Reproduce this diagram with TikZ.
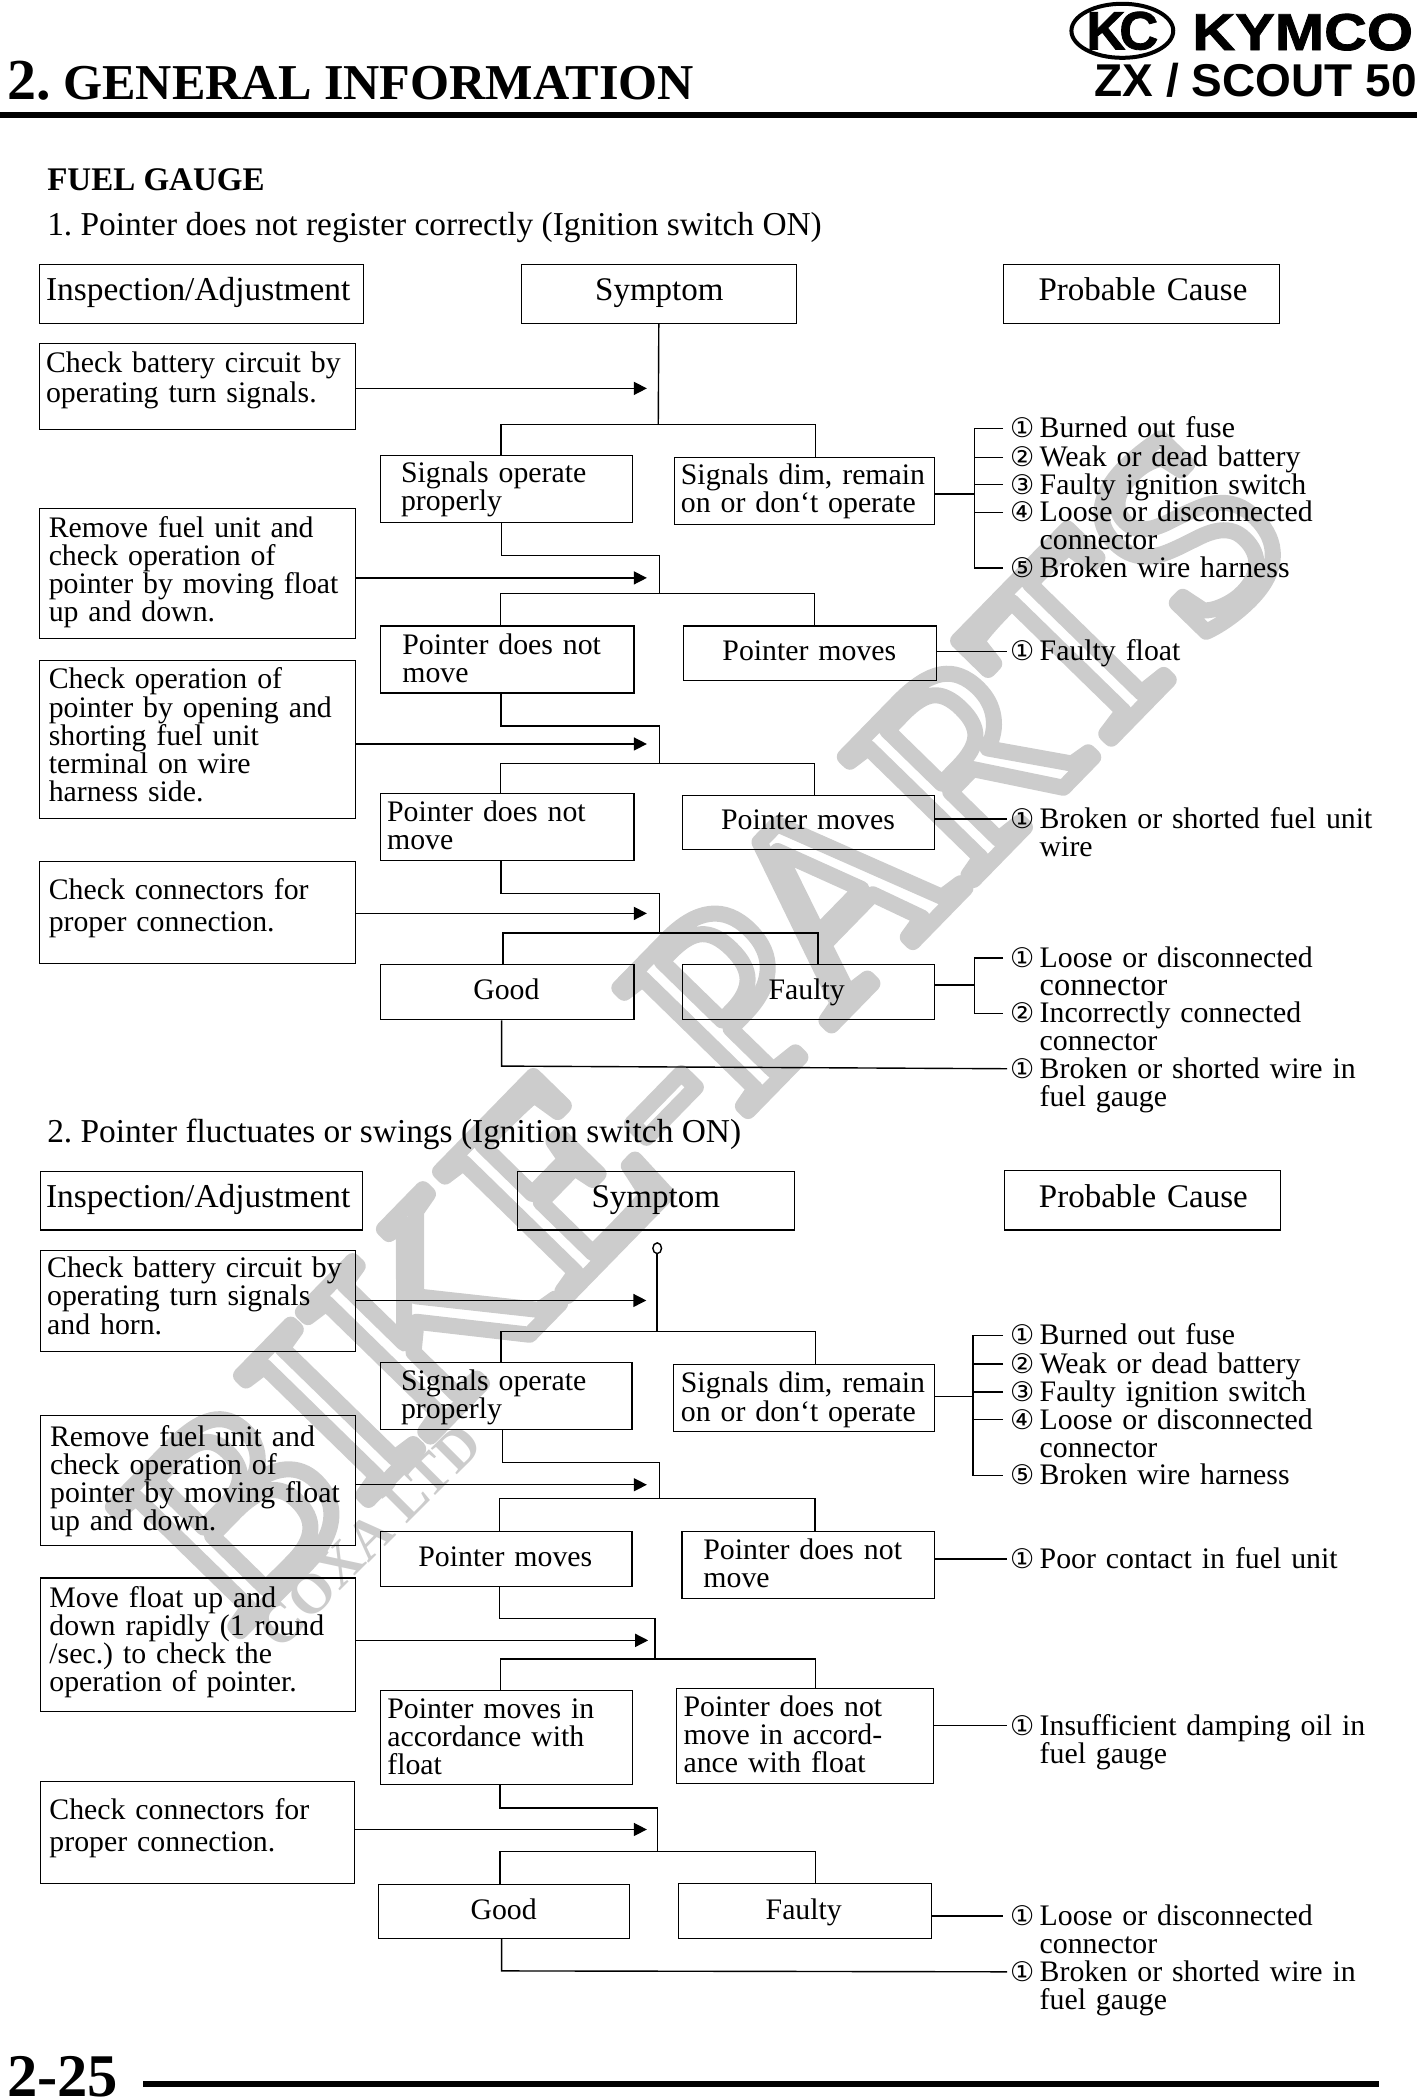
\documentclass[tikz,border=0pt]{standalone}
\usepackage{fontspec}
\setmainfont{Liberation Serif}
\newfontfamily\sansbold{Liberation Sans}[UprightFont=* Bold]
\newfontfamily\brandfont{Liberation Sans}[UprightFont=* Bold,FakeBold=1.5]
\newfontfamily\circfont{DejaVu Sans}
\usetikzlibrary{arrows.meta,shapes.geometric}
\frenchspacing
\newlength{\ux}
\setlength{\ux}{0.66964pt}
\newcommand{\bodyfont}{\fontsize{14.9}{14.06}\selectfont}
\newcommand{\headfont}{\fontsize{16.5}{16}\selectfont}
\newcommand{\cnum}[1]{\makebox[22\ux][l]{{\circfont\fontsize{13.5}{14}\selectfont #1}}}
\newcommand{\cindent}{\hspace*{22\ux}}
\tikzset{
	mybox/.style n args={4}{draw,line width=0.55pt,anchor=north west,inner sep=0pt,align=left,font=\bodyfont,
		text width=#1*\ux,text height=#4*\ux,text depth=(#2-#4)*\ux,execute at begin node={\leftskip=#3\ux}},
	headbox/.style n args={4}{mybox={#1}{#2}{#3}{#4},font=\headfont},
	cause/.style={anchor=base west,inner sep=0pt,text width=300\ux,align=left,font=\bodyfont},
	plain/.style={anchor=base west,inner sep=0pt},
	link/.style={line width=0.7pt},
	tick/.style={xshift=-3.3pt,yshift=4.7pt},
	lead/.style={xshift=-1.3pt,yshift=4.7pt},
}
\begin{document}
\begin{tikzpicture}[x=\ux,y=-\ux,>={Triangle[length=6.5pt,width=6.5pt]}]
	\useasboundingbox (0,0) rectangle (1059.6,1568);
	
	% watermark
	\node[rotate=45.7,font=\fontsize{136}{136}\selectfont] (mark) at (527,767) {\special{pdf:code q 1 Tr 8 w 1 j 1 J 0.8 G}BIKE-PARTS\special{pdf:code Q}};
	\node[rotate=45,text=black!20,font=\bfseries\fontsize{28}{28}\selectfont] (mark2) at (276,1147) {COXA LTD};
	
	% page head
	\node[plain,font=\bfseries\fontsize{29}{29}\selectfont] (num) at (5,74.5) {2.};
	\node[plain,font=\bfseries\fontsize{25.1}{25.1}\selectfont] (title) at (47,74.5) {GENERAL INFORMATION};
	\node[draw,ellipse,line width=2pt,inner sep=0pt,minimum width=75\ux,minimum height=40\ux,font=\brandfont\fontsize{27}{27}\selectfont] (logo) at (838,23) {K\kern-3pt C};
	\node[plain,transform shape,xscale=1.14,font=\brandfont\fontsize{26}{26}\selectfont] (brand) at (890,37.4) {KYMCO};
	\node[plain,font=\sansbold\fontsize{23}{23}\selectfont] (model) at (817,71.7) {ZX / SCOUT 50};
	\coordinate (RT1) at (0,86);
	\coordinate (RT2) at (1058,86);
	\draw[line width=2.8pt] (RT1) -- (RT2);
	\node[plain,font=\bfseries\fontsize{16.5}{16.5}\selectfont] (gauge) at (35,142) {FUEL GAUGE};
	\node[plain,font=\fontsize{16.7}{16}\selectfont] (prob1) at (35,175.6) {1. Pointer does not register correctly (Ignition switch ON)};
	\node[plain,font=\fontsize{16.7}{16}\selectfont] (prob2) at (35,853) {2. Pointer fluctuates or swings (Ignition switch ON)};
	
	% first chart, left and middle columns
	\node[headbox={242}{44}{5}{27},font=\fontsize{16.7}{16}\selectfont] (H1a) at (29,197) {Inspection/Adjustment};
	\node[headbox={205}{44}{55}{27}] (H1b) at (389,197) {Symptom};
	\node[headbox={206}{44}{26}{27}] (H1c) at (749,197) {Probable Cause};
	\node[mybox={236}{64}{5}{22}] (I1) at (29,256) {Check battery circuit by\\[0.7pt]operating turn signals.};
	\node[mybox={236}{97}{7}{22}] (I2) at (29,379) {Remove fuel unit and\\check operation of\\pointer by moving float\\up and down.};
	\node[mybox={236}{118}{7}{21}] (I3) at (29,493) {Check operation of\\pointer by opening and\\shorting fuel unit\\terminal on wire\\harness side.};
	\node[mybox={236}{76}{7}{28}] (I4) at (29,643) {Check connectors for\\[2pt]proper connection.};
	\node[mybox={188}{50}{15}{20.5}] (S1a) at (284,339.5) {Signals operate\\properly};
	\node[mybox={194.3}{50}{5}{20}] (S1b) at (503,341) {Signals dim, remain\\on or don‘t operate};
	\node[mybox={189}{50}{16}{21}] (S2a) at (284,467) {Pointer does not\\move};
	\node[mybox={189}{41}{29}{26}] (S2b) at (510,467) {Pointer moves};
	\node[mybox={189}{50}{4.6}{21}] (S3a) at (284,592) {Pointer does not\\move};
	\node[mybox={187.8}{40.4}{28.5}{25}] (S3b) at (509.5,593.6) {Pointer moves};
	\node[mybox={189}{41}{69}{26}] (S4a) at (284,720) {Good};
	\node[mybox={187.8}{41}{64}{26}] (S4b) at (509.5,719.6) {Faulty};
	
	% first chart, causes
	\node[cause] (C11) at (754,327) {\cnum{①}Burned out fuse};
	\node[cause] (C12) at (754,348.4) {\cnum{②}Weak or dead battery};
	\node[cause] (C13) at (754,369) {\cnum{③}Faulty ignition switch};
	\node[cause] (C14) at (754,389.5) {\cnum{④}Loose or disconnected\\\cindent connector};
	\node[cause] (C15) at (754,431) {\cnum{⑤}Broken wire harness};
	\node[cause] (C21) at (754,493.5) {\cnum{①}Faulty float};
	\node[cause] (C31) at (754,618.5) {\cnum{①}Broken or shorted fuel unit\\\cindent wire};
	\node[cause] (C41) at (754,722.4) {\cnum{①}Loose or disconnected\\\cindent{\fontsize{16.2}{14}\selectfont connector}};
	\node[cause] (C42) at (754,763.7) {\cnum{②}Incorrectly connected\\\cindent connector};
	\node[cause] (C51) at (754,805) {\cnum{①}Broken or shorted wire in\\\cindent fuel gauge};
	
	% first chart, tree
	\coordinate (J1) at (491.5,317);
	\coordinate (J1l) at (374,317);
	\coordinate (J1r) at (609,317);
	\coordinate (A1) at (483,290);
	\draw[link] (H1b.south) -- (J1);
	\draw[link] (S1a.north -| J1l) -- (J1l) -- (J1r) -- (S1b.north -| J1r);
	\path[->,link] (I1.east |- A1) edge (A1);
	
	\coordinate (E2) at (374.5,414.7);
	\coordinate (K2) at (492.6,414.7);
	\coordinate (J2) at (492.6,443);
	\coordinate (J2l) at (373.5,443);
	\coordinate (J2r) at (608,443);
	\coordinate (A2) at (483,431.5);
	\draw[link] (S1a.south -| E2) -- (E2) -- (K2) -- (J2);
	\draw[link] (S2a.north -| J2l) -- (J2l) -- (J2r) -- (S2b.north -| J2r);
	\path[->,link] (I2.east |- A2) edge (A2);
	
	\coordinate (E3) at (374,542);
	\coordinate (K3) at (492.6,542);
	\coordinate (J3) at (492.6,570);
	\coordinate (J3l) at (373.5,570);
	\coordinate (J3r) at (608,570);
	\coordinate (A3) at (483,555.5);
	\draw[link] (S2a.south -| E3) -- (E3) -- (K3) -- (J3);
	\draw[link] (S3a.north -| J3l) -- (J3l) -- (J3r) -- (S3b.north -| J3r);
	\path[->,link] (I3.east |- A3) edge (A3);
	
	\coordinate (E4) at (374,667);
	\coordinate (K4) at (492.6,667);
	\coordinate (J4) at (492.6,696.7);
	\coordinate (J4l) at (375.5,696.7);
	\coordinate (J4r) at (610.8,696.7);
	\coordinate (A4) at (483,682);
	\draw[link] (S3a.south -| E4) -- (E4) -- (K4) -- (J4);
	\draw[link] (S4a.north -| J4l) -- (J4l) -- (J4r) -- (S4b.north -| J4r);
	\path[->,link] (I4.east |- A4) edge (A4);
	
	% first chart, links to causes
	\coordinate (B1) at (727.5,369);
	\coordinate (T11) at ([tick]C11.base west);
	\coordinate (T12) at ([tick]C12.base west);
	\coordinate (T13) at ([tick]C13.base west);
	\coordinate (T14) at ([tick]C14.base west);
	\coordinate (T15) at ([tick]C15.base west);
	\draw[link] (T11) -| (B1) |- (T15);
	\path[link] (T12) edge (T12 -| B1);
	\path[link] (T13) edge (T13 -| B1);
	\path[link] (T14) edge (T14 -| B1);
	\path[link] (S1b.east |- B1) edge (B1);
	
	\coordinate (T21) at ([lead]C21.base west);
	\path[link] (S2b.east |- T21) edge (T21);
	\coordinate (T31) at ([lead]C31.base west);
	\path[link] (S3b.east |- T31) edge (T31);
	
	\coordinate (B4) at (727.5,735.6);
	\coordinate (T41) at ([tick]C41.base west);
	\coordinate (T42) at ([tick]C42.base west);
	\draw[link] (T41) -| (B4) |- (T42);
	\path[link] (S4b.east |- B4) edge (B4);
	
	\coordinate (E5) at (374.5,796);
	\coordinate (T51) at ([lead]C51.base west);
	\draw[link] (S4a.south -| E5) -- (E5) -- (T51);
	
	% second chart, left and middle columns
	\node[headbox={241}{44}{4.5}{27.4},font=\fontsize{16.7}{16}\selectfont] (H2a) at (29.5,874) {Inspection/Adjustment};
	\node[headbox={206.3}{44}{55}{27.4}] (H2b) at (386.3,874) {Symptom};
	\node[headbox={206.3}{44.5}{26}{28}] (H2c) at (749.3,873.5) {Probable Cause};
	\node[mybox={235.5}{76}{5.3}{20.7}] (I5) at (29.5,933) {Check battery circuit by\\operating turn signals\\and horn.};
	\node[mybox={235.5}{97}{7.5}{23}] (I6) at (29.5,1056.5) {Remove fuel unit and\\check operation of\\pointer by moving float\\up and down.};
	\node[mybox={235.5}{100}{7}{22}] (I7) at (29.5,1177.8) {Move float up and\\down rapidly (1 round\\/sec.) to check the\\operation of pointer.};
	\node[mybox={235}{76}{7}{28}] (I8) at (29.5,1330) {Check connectors for\\[2pt]proper connection.};
	\node[mybox={188}{50}{15.5}{21}] (S5a) at (283.5,1016.8) {Signals operate\\properly};
	\node[mybox={195}{50}{5.4}{21.3}] (S5b) at (502.6,1018.3) {Signals dim, remain\\on or don‘t operate};
	\node[mybox={188}{41}{28.5}{26}] (S6a) at (283.5,1143) {Pointer moves};
	\node[mybox={188.7}{50}{16}{21}] (S6b) at (508.8,1143) {Pointer does not\\move};
	\node[mybox={188}{70}{4.8}{20.4}] (S7a) at (284,1262) {Pointer moves in\\accordance with\\float};
	\node[mybox={191.3}{71}{5}{21}] (S7b) at (505,1260) {Pointer does not\\move in accord-\\ance with float};
	\node[mybox={188}{40}{69}{25.8}] (S8a) at (281.9,1406.8) {Good};
	\node[mybox={188.6}{41}{65}{26.6}] (S8b) at (506.3,1406) {Faulty};
	
	% second chart, causes
	\node[cause] (C61) at (754,1004) {\cnum{①}Burned out fuse};
	\node[cause] (C62) at (754,1025.6) {\cnum{②}Weak or dead battery};
	\node[cause] (C63) at (754,1046.5) {\cnum{③}Faulty ignition switch};
	\node[cause] (C64) at (754,1067) {\cnum{④}Loose or disconnected\\\cindent connector};
	\node[cause] (C65) at (754,1108.5) {\cnum{⑤}Broken wire harness};
	\node[cause] (C71) at (754,1171) {\cnum{①}Poor contact in fuel unit};
	\node[cause] (C81) at (754,1295.5) {\cnum{①}Insufficient damping oil in\\\cindent fuel gauge};
	\node[cause] (C91) at (754,1437.7) {\cnum{①}Loose or disconnected\\\cindent connector};
	\node[cause] (C92) at (754,1479.3) {\cnum{①}Broken or shorted wire in\\\cindent fuel gauge};
	
	% second chart, tree
	\node[draw,ellipse,link,inner sep=0pt,minimum width=6.5\ux,minimum height=8\ux] (O1) at (490.7,932) {};
	\coordinate (J5) at (490.7,994.3);
	\coordinate (J5l) at (374,994.3);
	\coordinate (J5r) at (609,994.3);
	\coordinate (A5) at (482.6,971);
	\draw[link] (O1.south) -- (J5);
	\draw[link] (S5a.north -| J5l) -- (J5l) -- (J5r) -- (S5b.north -| J5r);
	\path[->,link] (I5.east |- A5) edge (A5);
	
	\coordinate (E6) at (375,1092);
	\coordinate (K6) at (492.6,1092);
	\coordinate (J6) at (492.6,1119);
	\coordinate (J6l) at (373,1119);
	\coordinate (J6r) at (608.4,1119);
	\coordinate (A6) at (483,1108.6);
	\draw[link] (S5a.south -| E6) -- (E6) -- (K6) -- (J6);
	\draw[link] (S6a.north -| J6l) -- (J6l) -- (J6r) -- (S6b.north -| J6r);
	\path[->,link] (I6.east |- A6) edge (A6);
	
	\coordinate (E7) at (372.8,1208.4);
	\coordinate (K7) at (489,1208.4);
	\coordinate (J7) at (489,1238.6);
	\coordinate (J7l) at (373.5,1238.6);
	\coordinate (J7r) at (609,1238.6);
	\coordinate (A7) at (484,1224.8);
	\draw[link] (S6a.south -| E7) -- (E7) -- (K7) -- (J7);
	\draw[link] (S7a.north -| J7l) -- (J7l) -- (J7r) -- (S7b.north -| J7r);
	\path[->,link] (I7.east |- A7) edge (A7);
	
	\coordinate (E8) at (373.2,1350);
	\coordinate (K8) at (490.8,1350);
	\coordinate (J8) at (490.8,1382.4);
	\coordinate (J8l) at (373.2,1382.4);
	\coordinate (J8r) at (609,1382.4);
	\coordinate (A8) at (483,1366);
	\draw[link] (S7a.south -| E8) -- (E8) -- (K8) -- (J8);
	\draw[link] (S8a.north -| J8l) -- (J8l) -- (J8r) -- (S8b.north -| J8r);
	\path[->,link] (I8.east |- A8) edge (A8);
	
	% second chart, links to causes
	\coordinate (B6) at (726.5,1042.8);
	\coordinate (T61) at ([tick]C61.base west);
	\coordinate (T62) at ([tick]C62.base west);
	\coordinate (T63) at ([tick]C63.base west);
	\coordinate (T64) at ([tick]C64.base west);
	\coordinate (T65) at ([tick]C65.base west);
	\draw[link] (T61) -| (B6) |- (T65);
	\path[link] (T62) edge (T62 -| B6);
	\path[link] (T63) edge (T63 -| B6);
	\path[link] (T64) edge (T64 -| B6);
	\path[link] (S5b.east |- B6) edge (B6);
	
	\coordinate (T71) at ([lead]C71.base west);
	\path[link] (S6b.east |- T71) edge (T71);
	\coordinate (T81) at ([lead]C81.base west);
	\path[link] (S7b.east |- T81) edge (T81);
	\coordinate (T91) at ([tick]C91.base west);
	\path[link] (S8b.east |- T91) edge (T91);
	
	\coordinate (E9) at (374.5,1471.6);
	\coordinate (T92) at ([lead]C92.base west);
	\draw[link] (S8a.south -| E9) -- (E9) -- (T92);
	
	% page foot
	\node[plain,font=\bfseries\fontsize{30.3}{30.3}\selectfont] (page) at (5,1565) {2-25};
	\coordinate (RB1) at (106.8,1556);
	\coordinate (RB2) at (1030,1556);
	\draw[line width=3pt] (RB1) -- (RB2);
\end{tikzpicture}
\end{document}
